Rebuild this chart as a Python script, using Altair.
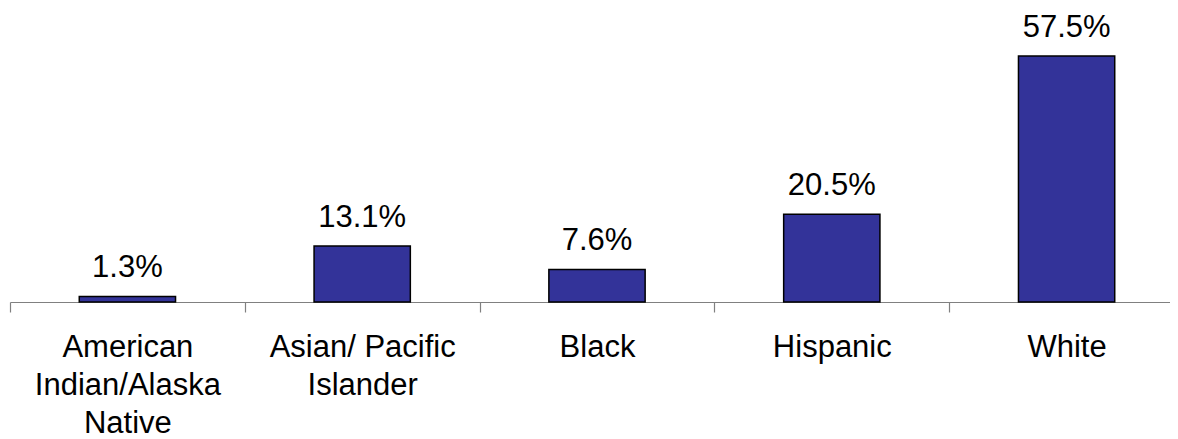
import altair as alt
import pandas as pd

categories = ["American|Indian/Alaska|Native", "Asian/ Pacific|Islander", "Black", "Hispanic", "White"]
values = [1.3, 13.1, 7.6, 20.5, 57.5]
value_labels = ["1.3%", "13.1%", "7.6%", "20.5%", "57.5%"]

df = pd.DataFrame({"cat": categories, "val": values, "lbl": value_labels})

FONT = "Liberation Sans"

x = alt.X(
    "cat:N",
    sort=categories,
    title=None,
    scale=alt.Scale(paddingInner=0, paddingOuter=0),
    axis=alt.Axis(
        labelExpr="split(datum.label, '|')",
        labelAngle=0,
        labelFont=FONT,
        labelFontSize=31,
        labelColor="black",
        labelPadding=20,
        labelLineHeight=38,
        labelBaseline="top",
        labelLimit=400,
        tickBand="extent",
        tickSize=10,
        tickColor="#808080",
        tickWidth=1.2,
        domainColor="#808080",
        domainWidth=1.2,
        grid=False,
    ),
)
y = alt.Y("val:Q", title=None, axis=None, scale=alt.Scale(domain=[0, 68.72]))

bars = alt.Chart(df).mark_bar(
    color="#333399", stroke="black", strokeWidth=1.5,
    width=alt.RelativeBandSize(0.41),
).encode(x=x, y=y)

texts = alt.Chart(df).mark_text(
    font=FONT, fontSize=31, color="black", baseline="alphabetic", dy=-19,
).encode(x=x, y=y, text="lbl:N")

chart = (bars + texts).properties(
    width=1174, height=294,
    padding={"left": 2, "top": 0, "right": -14, "bottom": 137},
    autosize=alt.AutoSizeParams(type="none"),
).configure_view(stroke=None)

chart.save("out.html", embed_options={"renderer": "svg", "actions": False})
